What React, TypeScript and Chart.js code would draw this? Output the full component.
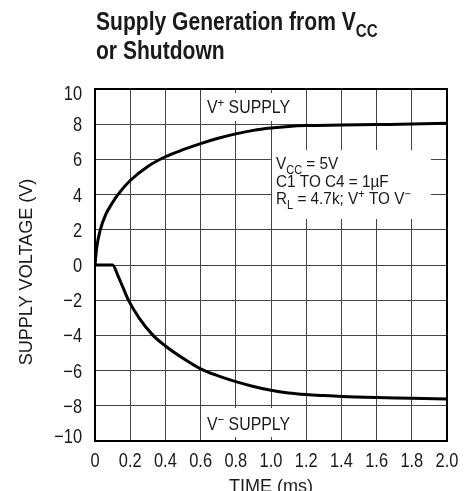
import React, { useEffect, useRef } from 'react';
import { Chart, registerables } from 'chart.js';

Chart.register(...registerables);

const FONT = '"Liberation Sans", Arial, sans-serif';

// V+ supply curve (time in ms, volts)
const timeVplus = [0, 0.01, 0.03, 0.06, 0.1, 0.13, 0.2, 0.3, 0.4, 0.5, 0.6, 0.7, 0.8, 0.9, 1.0, 1.1, 1.2, 1.4, 1.6, 1.8, 2.0];
const vPlus = [0, 1.0, 2.0, 2.85, 3.55, 4.0, 4.8, 5.6, 6.15, 6.55, 6.9, 7.2, 7.45, 7.65, 7.78, 7.87, 7.92, 7.95, 7.98, 8.01, 8.05];

// V- supply curve
const timeVminus = [0, 0.1, 0.13, 0.16, 0.19, 0.25, 0.33, 0.4, 0.5, 0.6, 0.7, 0.8, 0.9, 1.0, 1.1, 1.2, 1.3, 1.4, 1.6, 1.8, 2.0];
const vMinus = [0, 0, -0.6, -1.3, -2.0, -3.0, -4.0, -4.6, -5.3, -5.9, -6.3, -6.63, -6.9, -7.12, -7.27, -7.36, -7.42, -7.47, -7.53, -7.57, -7.62];

const xTickLabels = ['0', '0.2', '0.4', '0.6', '0.8', '1.0', '1.2', '1.4', '1.6', '1.8', '2.0'];
const yTickLabels = ['\u221210', '\u22128', '\u22126', '\u22124', '\u22122', '0', '2', '4', '6', '8', '10'];

const xTitle = 'TIME (ms)';
const yTitle = 'SUPPLY VOLTAGE (V)';

type Seg = { t: string; k?: 'sub' | 'sup' };

const titleLine1: Seg[] = [{ t: 'Supply Generation from V' }, { t: 'CC', k: 'sub' }];
const titleLine2: Seg[] = [{ t: 'or Shutdown' }];
const vPlusLabel: Seg[] = [{ t: 'V' }, { t: '+', k: 'sup' }, { t: ' SUPPLY' }];
const vMinusLabel: Seg[] = [{ t: 'V' }, { t: '\u2212', k: 'sup' }, { t: ' SUPPLY' }];
const condLines: Seg[][] = [
  [{ t: 'V' }, { t: 'CC', k: 'sub' }, { t: ' = 5V' }],
  [{ t: 'C1 TO C4 = 1\u00b5F' }],
  [{ t: 'R' }, { t: 'L', k: 'sub' }, { t: ' = 4.7k; V' }, { t: '+', k: 'sup' }, { t: ' TO V' }, { t: '\u2212', k: 'sup' }],
];

const TEXT = '#1a1a1a';

function drawRich(
  ctx: CanvasRenderingContext2D,
  x: number,
  y: number,
  segs: Seg[],
  size: number,
  sx: number,
  align: 'left' | 'center' | 'right' = 'left',
  weight = 'normal'
) {
  const fontOf = (s: Seg) => `${weight} ${s.k ? size * 0.72 : size}px ${FONT}`;
  let total = 0;
  for (const s of segs) {
    ctx.font = fontOf(s);
    total += ctx.measureText(s.t).width;
  }
  const off = align === 'left' ? 0 : align === 'center' ? -total / 2 : -total;
  ctx.save();
  ctx.translate(x, y);
  ctx.scale(sx, 1);
  ctx.textAlign = 'left';
  ctx.textBaseline = 'alphabetic';
  let cx = off;
  for (const s of segs) {
    const dy = s.k === 'sub' ? size * 0.28 : s.k === 'sup' ? -size * 0.36 : 0;
    ctx.font = fontOf(s);
    ctx.fillText(s.t, cx, dy);
    cx += ctx.measureText(s.t).width;
  }
  ctx.restore();
}

const TICK_SIZE = 20;
const TICK_SX = 0.82;

const decorPlugin = {
  id: 'decor',
  beforeDatasetsDraw(chart: any) {
    const ctx: CanvasRenderingContext2D = chart.ctx;
    const a = chart.chartArea;
    ctx.save();
    // label boxes
    ctx.fillStyle = '#fff';
    ctx.fillRect(203, 93, 94, 28);
    ctx.fillRect(203, 408, 94, 29);
    ctx.fillRect(272, 150, 159, 69);
    ctx.fillStyle = TEXT;
    drawRich(ctx, 207, 113, vPlusLabel, 18, 0.88);
    drawRich(ctx, 207, 430, vMinusLabel, 18, 0.88);
    condLines.forEach((l, i) => drawRich(ctx, 276, 169 + i * 17.5, l, 17, 0.9));
    // frame
    ctx.strokeStyle = '#000';
    ctx.lineWidth = 2;
    ctx.strokeRect(a.left, a.top, a.right - a.left, a.bottom - a.top);
    ctx.restore();
  },
  afterDraw(chart: any) {
    const ctx: CanvasRenderingContext2D = chart.ctx;
    const a = chart.chartArea;
    const xs = chart.scales.x;
    const ys = chart.scales.y;
    ctx.save();
    ctx.fillStyle = TEXT;
    // tick labels, placed by the library's scales
    xs.ticks.forEach((tk: any, i: number) => {
      const px = xs.getPixelForValue(tk.value);
      drawRich(ctx, px, a.bottom + 26, [{ t: xTickLabels[i] }], TICK_SIZE, TICK_SX, 'center');
    });
    const n = ys.ticks.length;
    ys.ticks.forEach((tk: any, i: number) => {
      let py = ys.getPixelForValue(tk.value);
      if (i === n - 1) py += 4;
      if (i === 0) py -= 5;
      drawRich(ctx, a.left - 13, py + 7, [{ t: yTickLabels[i] }], TICK_SIZE, TICK_SX, 'right');
    });
    // title
    drawRich(ctx, 96, 30, titleLine1, 26, 0.81, 'left', 'bold');
    drawRich(ctx, 96, 59, titleLine2, 26, 0.81, 'left', 'bold');
    // axis titles
    drawRich(ctx, (a.left + a.right) / 2, 492, [{ t: xTitle }], 19, 0.95, 'center');
    ctx.translate(32, (a.top + a.bottom) / 2 + 7);
    ctx.rotate(-Math.PI / 2);
    drawRich(ctx, 0, 0, [{ t: yTitle }], 19, 0.95, 'center');
    ctx.restore();
  },
};

export default function App() {
  const ref = useRef<HTMLCanvasElement>(null);
  useEffect(() => {
    const chart = new Chart(ref.current as HTMLCanvasElement, {
      type: 'line',
      data: {
        datasets: [
          {
            data: timeVplus.map((t, i) => ({ x: t, y: vPlus[i] })),
            borderColor: '#000',
            borderWidth: 3,
            pointRadius: 0,
            cubicInterpolationMode: 'monotone',
            fill: false,
          },
          {
            data: timeVminus.map((t, i) => ({ x: t, y: vMinus[i] })),
            borderColor: '#000',
            borderWidth: 3,
            pointRadius: 0,
            cubicInterpolationMode: 'monotone',
            fill: false,
          },
        ],
      },
      options: {
        responsive: false,
        animation: false,
        layout: { padding: { top: 89, right: 24, left: 0, bottom: 0 } },
        plugins: { legend: { display: false }, tooltip: { enabled: false } },
        scales: {
          x: {
            type: 'linear',
            min: 0,
            max: 2,
            ticks: { stepSize: 0.2, autoSkip: false, maxRotation: 0, display: false },
            grid: { color: '#444', lineWidth: 1, drawTicks: false },
            border: { display: false },
            afterFit: (s: any) => {
              s.height = 50;
            },
          },
          y: {
            type: 'linear',
            min: -10,
            max: 10,
            ticks: { stepSize: 2, display: false },
            grid: { color: '#444', lineWidth: 1, drawTicks: false },
            border: { display: false },
            afterFit: (s: any) => {
              s.width = 95;
            },
          },
        },
      } as any,
      plugins: [decorPlugin],
    });
    return () => chart.destroy();
  }, []);
  return (
    <div style={{ position: 'absolute', left: 0, top: 0, width: 471, height: 491 }}>
      <canvas ref={ref} width={471} height={491} style={{ display: 'block' }} />
    </div>
  );
}
